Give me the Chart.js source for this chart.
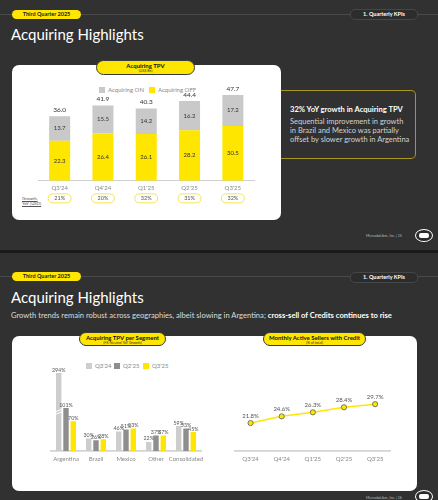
<!DOCTYPE html>
<html>
<head>
<meta charset="utf-8">
<script src="https://cdn.jsdelivr.net/npm/chart.js@4.4.1/dist/chart.umd.min.js"></script>
<style>
  html, body { margin: 0; padding: 0; }
  body { width: 438px; height: 500px; overflow: hidden; background: #1b1b1b; font-family: Lato, "Open Sans", sans-serif; position: relative; }
  .slide { position: absolute; left: 0; width: 438px; background: #313131; overflow: hidden; }
  .abs { position: absolute; }
  .rule { position: absolute; left: 0; width: 438px; height: 1px; background: #4a4a4a; }
  .qpill { position: absolute; left: 12px; width: 69px; height: 9px; border-radius: 5px; background: #ffe600; color: #222; font-weight: 700; font-size: 5.5px; line-height: 9px; text-align: center; }
  .kpill { position: absolute; left: 350px; width: 66px; height: 9px; border-radius: 5px; border: 1px solid #474747; background: #2c2c2c; color: #fff; font-weight: 700; font-size: 5.5px; line-height: 9px; text-align: center; }
  .title { position: absolute; left: 11px; color: #fff; font-size: 15px; white-space: nowrap; }
  .card { position: absolute; background: #fff; border-radius: 7px; }
  .tpill { position: absolute; background: #ffe600; border: 1px solid #3a3a3a; border-radius: 8px; text-align: center; color: #111; }
  .tpill b { display: block; font-size: 6px; line-height: 7px; margin-top: 1px; }
  .tpill span { display: block; font-size: 3.6px; line-height: 4px; color: #333; }
  .leg { position: absolute; font-size: 6px; color: #8a8a8a; white-space: nowrap; line-height: 7px; }
  .leg i { display: inline-block; width: 6px; height: 6px; vertical-align: -1px; margin-right: 3px; }
  .foot { position: absolute; left: 366px; font-size: 3.6px; color: #bdbdbd; white-space: nowrap; }
  .logo { position: absolute; left: 415px; width: 16px; height: 11px; border: 1px solid #fff; border-radius: 50%; background: #2b2b2b; }
  .logo:after { content: ""; position: absolute; left: 3px; top: 3px; width: 10px; height: 5px; background: #fff; border-radius: 2px; }
  canvas { position: absolute; }
</style>
</head>
<body>

<div class="slide" style="top:0;height:250px;">
  <div class="rule" style="top:14px;"></div>
  <div class="qpill" style="top:10px;">Third Quarter 2025</div>
  <div class="kpill" style="top:9px;">1. Quarterly KPIs</div>
  <div class="title" style="top:25px;">Acquiring Highlights</div>
  <div class="card" style="left:12px;top:65px;width:269px;height:155px;"></div>
  <div class="tpill" style="left:96px;top:60px;width:97px;height:13px;"><b>Acquiring TPV</b><span>(US$ Bn)</span></div>
  <div class="leg" style="left:99px;top:86px;"><i style="background:#c8c8c8"></i>Acquiring ON</div>
  <div class="leg" style="left:149px;top:86px;"><i style="background:#ffe600"></i>Acquiring OFF</div>
  <div class="abs" style="left:22px;top:196px;font-size:4.4px;line-height:5px;color:#555;text-decoration:underline;">Growth,<br>YoY (USD)</div>
  <div class="abs" style="left:281px;top:90px;width:134px;height:67px;border:1px solid #a8961d;border-left:none;border-radius:0 5px 5px 0;"></div>
  <div class="abs" style="left:290px;top:104px;color:#fff;font-weight:700;font-size:7.6px;white-space:nowrap;">32% YoY growth in Acquiring TPV</div>
  <div class="abs" style="left:290px;top:117px;color:#d2d2d2;font-size:7.5px;line-height:9px;white-space:nowrap;">Sequential improvement in growth<br>in Brazil and Mexico was partially<br>offset by slower growth in Argentina</div>
  <div class="foot" style="top:233px;">MercadoLibre, Inc. | 15</div>
  <div class="logo" style="top:229px;"></div>
  <canvas id="tpvChart" width="269" height="134" style="left:12px;top:78px;"></canvas>
</div>

<div class="slide" style="top:253px;height:247px;">
  <div class="rule" style="top:23px;"></div>
  <div class="qpill" style="top:19px;">Third Quarter 2025</div>
  <div class="kpill" style="top:19px;">1. Quarterly KPIs</div>
  <div class="title" style="top:35px;">Acquiring Highlights</div>
  <div class="abs" style="left:11px;top:57px;color:#dcdcdc;font-size:7.6px;white-space:nowrap;">Growth trends remain robust across geographies, albeit slowing in Argentina; <b style="color:#fff">cross-sell of Credits continues to rise</b></div>
  <div class="card" style="left:12px;top:83px;width:405px;height:155px;"></div>
  <div class="tpill" style="left:79px;top:79px;width:85px;height:12px;"><b>Acquiring TPV per Segment</b><span>(FX-Neutral YoY Growth)</span></div>
  <div class="tpill" style="left:263px;top:79px;width:101px;height:12px;"><b>Monthly Active Sellers with Credit</b><span>(% of total)</span></div>
  <div class="leg" style="left:86px;top:109px;"><i style="background:#cdcdcd"></i>Q3'24</div>
  <div class="leg" style="left:114px;top:109px;"><i style="background:#8e8e8e"></i>Q2'25</div>
  <div class="leg" style="left:143px;top:109px;"><i style="background:#ffe600"></i>Q3'25</div>
  <div class="foot" style="top:242px;">MercadoLibre, Inc. | 16</div>
  <div class="logo" style="top:237px;"></div>
  <canvas id="segChart" width="190" height="117" style="left:30px;top:102px;"></canvas>
  <canvas id="sellerChart" width="190" height="112" style="left:220px;top:107px;"></canvas>
</div>

<script>
Chart.defaults.font.family = 'Lato';
Chart.defaults.animation = false;

// slide 15 - acquiring TPV (US$ Bn)
const quarters = ["Q3'24", "Q4'24", "Q1'25", "Q2'25", "Q3'25"];
const acqOff = [22.3, 26.4, 26.1, 28.2, 30.5];
const acqOn = [13.7, 15.5, 14.2, 16.2, 17.2];
const acqTotal = [36.0, 41.9, 40.3, 44.4, 47.7];
const growthYoY = ['21%', '20%', '32%', '31%', '32%'];

// slide 16 - TPV per segment (FX-neutral YoY growth, %)
const segments = ['Argentina', 'Brazil', 'Mexico', 'Other', 'Consolidated'];
const segQ324 = [294, 30, 46, 22, 59];
const segQ225 = [101, 26, 51, 37, 53];
const segQ325 = [70, 28, 53, 37, 45];

// slide 16 - monthly active sellers with credit (% of total)
const sellersCredit = [21.8, 24.6, 26.3, 28.4, 29.7];

const flatTicks = { color: '#8a8a8a', font: { size: 6 }, padding: 4, maxRotation: 0, autoSkip: false };

const tpvLabels = {
  id: 'tpvLabels',
  afterDatasetsDraw(chart) {
    const c = chart.ctx;
    c.save();
    c.textAlign = 'center';
    c.font = '6px Lato';
    c.fillStyle = '#333';
    c.textBaseline = 'middle';
    chart.data.datasets.forEach((ds, di) => {
      chart.getDatasetMeta(di).data.forEach((el, i) => {
        c.fillText(ds.data[i].toFixed(1), el.x, (el.y + el.base) / 2);
      });
    });
    const top = chart.getDatasetMeta(1).data;
    c.font = '6.5px Lato';
    c.textBaseline = 'bottom';
    top.forEach((el, i) => {
      c.fillText(acqTotal[i].toFixed(1), el.x, el.y - 3);
    });
    // growth pills under the axis
    const y = chart.chartArea.bottom + 13;
    c.font = '5.5px Lato';
    c.textBaseline = 'middle';
    top.forEach((el, i) => {
      c.beginPath();
      c.roundRect(el.x - 11.5, y, 23, 9, 4.5);
      c.fillStyle = '#fff';
      c.fill();
      c.strokeStyle = '#f5dc2a';
      c.lineWidth = 0.8;
      c.stroke();
      c.fillStyle = '#555';
      c.fillText(growthYoY[i], el.x, y + 4.7);
    });
    c.restore();
  }
};

new Chart(document.getElementById('tpvChart'), {
  type: 'bar',
  data: {
    labels: quarters,
    datasets: [
      { label: 'Acquiring OFF', data: acqOff, backgroundColor: '#ffe600' },
      { label: 'Acquiring ON', data: acqOn, backgroundColor: '#c9c9c9' }
    ]
  },
  options: {
    responsive: false,
    devicePixelRatio: 1,
    barPercentage: 0.97,
    categoryPercentage: 0.5,
    layout: { padding: { left: 26, right: 26.5, top: 4, bottom: 16 } },
    plugins: { legend: { display: false }, tooltip: { enabled: false } },
    scales: {
      x: {
        stacked: true,
        grid: { display: false, drawTicks: false },
        border: { display: true, color: '#cfcfcf', width: 1 },
        ticks: flatTicks
      },
      y: { stacked: true, display: false, min: 0, max: 55 }
    }
  },
  plugins: [tpvLabels]
});

const segLabels = {
  id: 'segLabels',
  afterDatasetsDraw(chart) {
    const c = chart.ctx;
    const area = chart.chartArea;
    c.save();
    // axis break on the Argentina Q3'24 bar
    const br = chart.getDatasetMeta(0).data[0];
    c.strokeStyle = '#fff';
    c.lineWidth = 1;
    [0, 2.6].forEach(d => {
      c.beginPath();
      c.moveTo(br.x - br.width / 2 - 1, area.top + 39 + d);
      c.lineTo(br.x + br.width / 2 + 1, area.top + 36 + d);
      c.stroke();
    });
    c.textAlign = 'center';
    c.textBaseline = 'bottom';
    c.font = '5.3px Lato';
    c.fillStyle = '#555';
    chart.data.datasets.forEach((ds, di) => {
      chart.getDatasetMeta(di).data.forEach((el, i) => {
        c.fillText(ds.data[i] + '%', el.x, Math.max(el.y, area.top) - 0.5);
      });
    });
    c.restore();
  }
};

new Chart(document.getElementById('segChart'), {
  type: 'bar',
  data: {
    labels: segments,
    datasets: [
      { label: "Q3'24", data: segQ324, backgroundColor: '#cdcdcd', clip: 0 },
      { label: "Q2'25", data: segQ225, backgroundColor: '#8e8e8e', clip: 0 },
      { label: "Q3'25", data: segQ325, backgroundColor: '#ffe600', clip: 0 }
    ]
  },
  options: {
    responsive: false,
    devicePixelRatio: 1,
    barPercentage: 0.74,
    categoryPercentage: 0.73,
    layout: { padding: { left: 21, right: 19, top: 18, bottom: 5.5 } },
    plugins: { legend: { display: false }, tooltip: { enabled: false } },
    scales: {
      x: {
        grid: { display: false, drawTicks: false },
        border: { display: true, color: '#d4d4d4', width: 1.8 },
        ticks: flatTicks
      },
      y: { display: false, min: 0, max: 183 }
    }
  },
  plugins: [segLabels]
});

const sellerLabels = {
  id: 'sellerLabels',
  afterDatasetsDraw(chart) {
    const c = chart.ctx;
    c.save();
    c.textAlign = 'center';
    c.textBaseline = 'bottom';
    c.font = '6px Lato';
    c.fillStyle = '#555';
    chart.getDatasetMeta(0).data.forEach((el, i) => {
      c.fillText(sellersCredit[i].toFixed(1) + '%', el.x, el.y - 4);
    });
    c.restore();
  }
};

new Chart(document.getElementById('sellerChart'), {
  type: 'line',
  data: {
    labels: quarters,
    datasets: [{
      label: 'Monthly Active Sellers with Credit',
      data: sellersCredit,
      borderColor: '#ffe600',
      borderWidth: 1.5,
      pointRadius: 2.6,
      pointBackgroundColor: '#ffe600',
      pointBorderColor: '#5c5c5c',
      pointBorderWidth: 0.8
    }]
  },
  options: {
    responsive: false,
    devicePixelRatio: 1,
    layout: { padding: { left: 15, right: 19.3, top: 19.5, bottom: 5.5 } },
    plugins: { legend: { display: false }, tooltip: { enabled: false } },
    scales: {
      x: {
        offset: true,
        grid: { display: false, drawTicks: false },
        border: { display: true, color: '#d4d4d4', width: 1.8 },
        ticks: flatTicks
      },
      y: { display: false, min: 10, max: 40 }
    }
  },
  plugins: [sellerLabels]
});
</script>
</body>
</html>
